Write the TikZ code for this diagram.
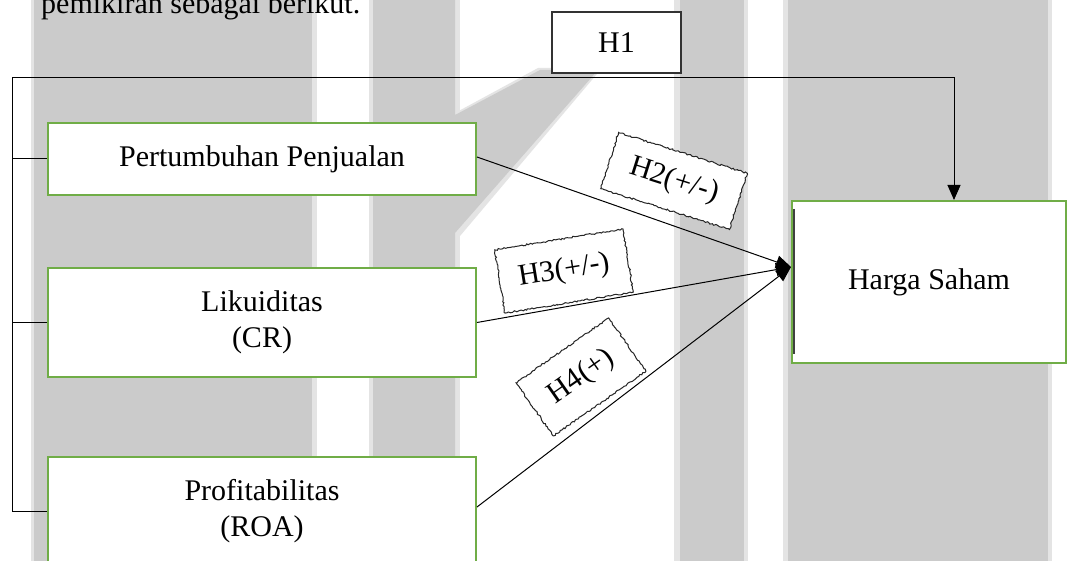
\documentclass[tikz,border=0pt]{standalone}
\usepackage{fontspec}
\setmainfont{Liberation Serif}
\usetikzlibrary{arrows.meta,decorations.pathmorphing}
\definecolor{stripe}{HTML}{CBCBCB}
\definecolor{stripeedge}{HTML}{E4E4E4}
\definecolor{boxgreen}{HTML}{70AD47}
\tikzset{
  txt/.style={font=\fontsize{30}{36}\selectfont},
  greenbox/.style={txt, draw=boxgreen, line width=2pt, fill=white, align=center, inner sep=0pt},
  hbox/.style={txt, draw=black!80, line width=1.2pt, fill=white, inner sep=0pt},
  conn/.style={draw=black, line width=1pt},
  tipstyle/.style={-{Triangle[length=15pt,width=13pt]}},
  lab/.style={txt, fill=white, draw=black!85, line width=1pt, inner sep=0pt,
    decorate, decoration={random steps, segment length=1.8pt, amplitude=0.8pt}}
}
\begin{document}
\begin{tikzpicture}[x=1pt,y=-1pt]
\useasboundingbox (0,0) rectangle (1068,561);
\clip (0,0) rectangle (1068,561);
\fill[white] (0,0) rectangle (1068,561);
% background stripes
\fill[stripeedge] (31,0) rectangle (317,561);
\fill[stripe] (34,0) rectangle (312,561);
\fill[stripeedge] (369,0) rectangle (460,561);
\fill[stripeedge] (455,113) -- (538,68) -- (602,68) -- (460,236) -- cycle;
\fill[stripe] (373,0) -- (455,0) -- (455,115) -- (540,70) -- (598,70) -- (455,233) -- (455,561) -- (373,561) -- cycle;
\fill[stripeedge] (674,0) rectangle (748,561);
\fill[stripe] (680,0) rectangle (744,561);
\fill[stripeedge] (783,0) rectangle (1052,561);
\fill[stripe] (788,0) rectangle (1048,561);
% top text
\node[txt, anchor=base west, inner sep=0pt] (toptext) at (41,13.5) {pemikiran sebagai berikut.};
% boxes
\node[greenbox, minimum width=428pt, minimum height=72pt] (b1) at (262,159) {Pertumbuhan Penjualan};
\node[greenbox, minimum width=428pt, minimum height=109pt] (b2) at (262,322.5) {Likuiditas\\(CR)};
\node[greenbox, minimum width=428pt, minimum height=108pt] (b3) at (262,511) {Profitabilitas\\(ROA)};
\node[greenbox, minimum width=274pt, minimum height=162pt] (hs) at (929,282) {Harga Saham};
\draw[black!75, line width=1.5pt] ([shift={(3pt,-9pt)}]hs.north west) -- ([shift={(3pt,10pt)}]hs.south west);
\node[hbox, minimum width=129pt, minimum height=61pt] (h1) at (616.5,42.5) {H1};
% left bracket and H1 connector
\coordinate (lft) at (12,78);
\draw[conn, tipstyle] (b3.west) -| (lft) -| ([xshift=25pt]hs.north);
\draw[conn] (b1.west) -- (b1.west -| lft);
\draw[conn] (b2.west) -- (b2.west -| lft);
% converging arrows
\coordinate (tip) at ([yshift=15pt]hs.west);
\draw[conn, tipstyle] ([yshift=2pt]b1.east) -- (tip);
\draw[conn, tipstyle] (b2.east) -- (tip);
\draw[conn, tipstyle] ([yshift=4pt]b3.east) -- (tip);
% hypothesis labels
\node[lab, rotate=-17.6, minimum width=135pt, minimum height=59pt] (h2) at (674,181) {H2(+/-)};
\node[lab, rotate=9.3, minimum width=130pt, minimum height=64pt] (h3) at (564,271) {H3(+/-)};
\node[lab, rotate=35, minimum width=113pt, minimum height=65pt] (h4) at (581,377) {H4(+)};
\end{tikzpicture}
\end{document}
